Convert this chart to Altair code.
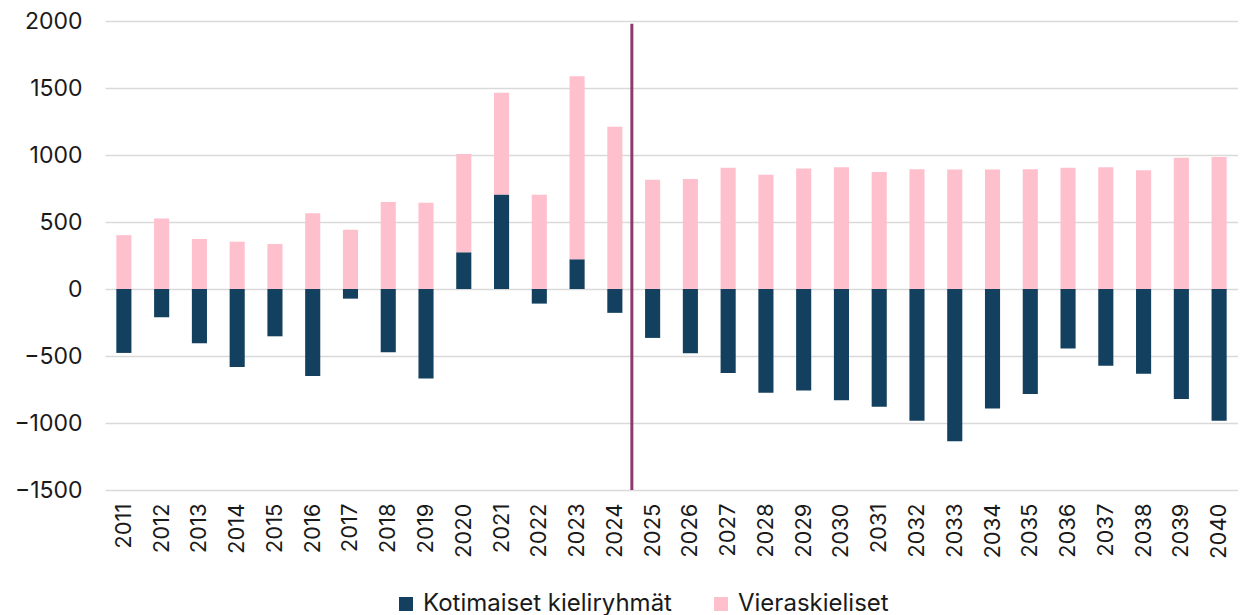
import altair as alt
import pandas as pd

years = [str(y) for y in range(2011, 2041)]
kotimaiset = [-477, -210, -405, -583, -353, -649, -72, -472, -667, 274,
              706, -109, 222, -178, -365, -479, -627, -775, -758, -830,
              -879, -983, -1136, -891, -783, -444, -573, -632, -820, -983]
vieraskieliset = [402, 526, 373, 353, 336, 565, 442, 649, 644, 733,
                  758, 704, 1366, 1210, 815, 820, 904, 852, 899, 909,
                  874, 894, 891, 891, 894, 904, 909, 886, 980, 985]
series = ["Kotimaiset kieliryhmät", "Vieraskieliset"]
colors = ["#13405F", "#FFC0CE"]

rows = []
for i, y in enumerate(years):
    rows.append({"year": y, "group": series[0], "value": kotimaiset[i], "ord": 0})
    rows.append({"year": y, "group": series[1], "value": vieraskieliset[i], "ord": 1})
df = pd.DataFrame(rows)

divider = pd.DataFrame([{"year": "2024", "top": 1980, "bottom": -1500}])

FONT = "Inter"

xenc = alt.X("year:N", sort=years,
             scale=alt.Scale(domain=years, paddingInner=0.6, paddingOuter=0.3),
             axis=alt.Axis(title=None, labelAngle=-90, labelFontSize=22, labelFont=FONT,
                           labelColor="#1a1a1a", labelPadding=13, ticks=False, domain=False,
                           grid=False))

bars = alt.Chart(df).mark_bar().encode(
    x=xenc,
    y=alt.Y("value:Q", stack="zero",
            scale=alt.Scale(domain=[-1500, 2000], nice=False),
            axis=alt.Axis(title=None, values=[-1500, -1000, -500, 0, 500, 1000, 1500, 2000],
                          format="d",
                          labelFontSize=23, labelFont=FONT, labelColor="#1a1a1a",
                          labelPadding=23, minExtent=92, maxExtent=92,
                          ticks=False, domain=False, gridColor="#d9d9d9", gridWidth=1.5)),
    color=alt.Color("group:N",
                    scale=alt.Scale(domain=series, range=colors),
                    legend=alt.Legend(title=None, orient="none", direction="horizontal",
                                      legendX=289, legendY=571,
                                      symbolType="square", symbolSize=196,
                                      symbolStrokeWidth=0, labelFontSize=24, labelFont=FONT,
                                      labelColor="#1a1a1a", labelOffset=5, columnPadding=37,
                                      labelLimit=0)),
    order=alt.Order("ord:Q"),
)

rule = alt.Chart(divider).mark_rule(color="#8C3B6F", strokeWidth=3, xOffset=17).encode(
    x=alt.X("year:N", sort=years),
    y=alt.Y("top:Q"),
    y2=alt.Y2("bottom:Q"),
)

chart = alt.layer(bars, rule).properties(
    width=1133, height=469,
    padding={"left": 5, "top": 2, "right": 0, "bottom": 0},
).configure_view(stroke=None)

chart.save("out.html", embed_options={"renderer": "svg", "actions": False})
